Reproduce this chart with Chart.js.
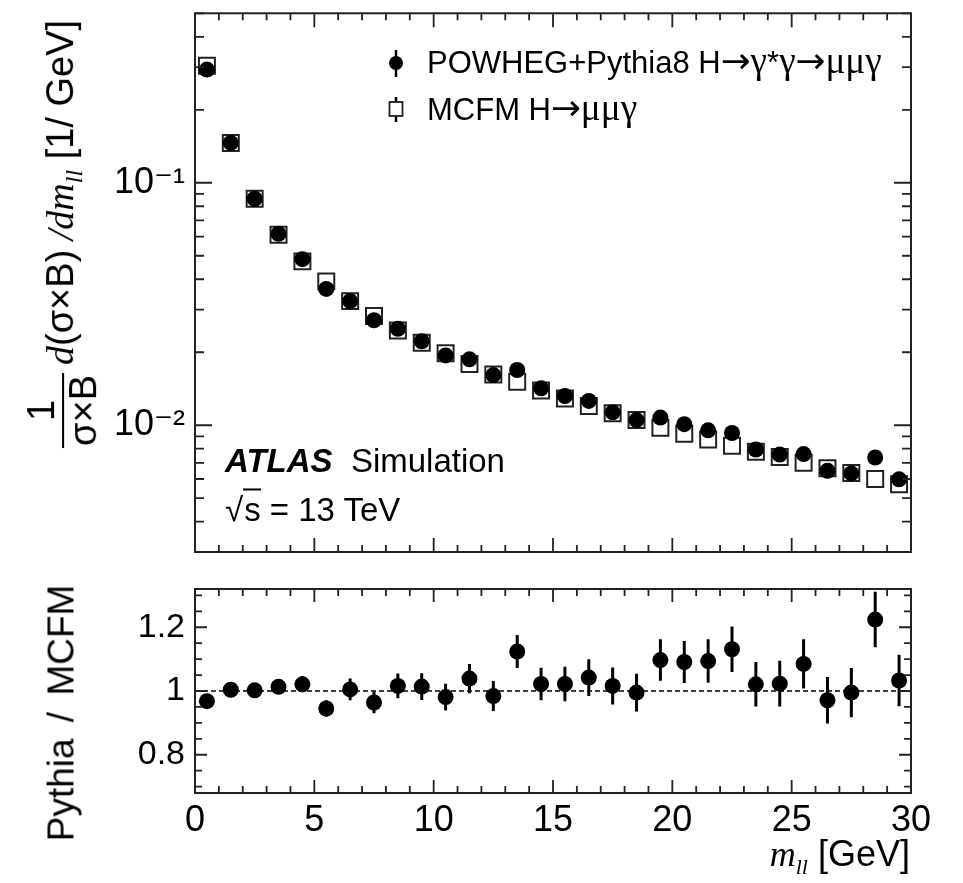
<!DOCTYPE html>
<html>
<head>
<meta charset="utf-8">
<script src="https://cdn.jsdelivr.net/npm/chart.js@4.4.1/dist/chart.umd.min.js"></script>
<style>
  body { margin: 0; background: #fff; }
  #wrap { position: relative; width: 963px; height: 883px; overflow: hidden; background: #fff; }
  .pane { position: absolute; left: 0; }
  .lbl { position: absolute; font-family: "Liberation Sans", Arial, sans-serif; color: #000; white-space: nowrap; line-height: 1; }
  .sf { font-family: "Liberation Serif", "DejaVu Serif", serif; }
  .gk { font-family: "Liberation Serif", "DejaVu Serif", serif; font-size: 1.2em; line-height: 0.8; }
  .ar { font-family: "DejaVu Sans", sans-serif; font-size: 1.15em; line-height: 0.8; }
  .it { font-style: italic; }
  .frac { display: inline-block; vertical-align: middle; text-align: center; margin-right: 8px; }
  .frac span { display: block; line-height: 1.05; }
  .frac .den { border-top: 2px solid #000; padding: 0 2px; }
  .rot { transform: translate(-50%, -50%) rotate(-90deg); }
  .mid { transform: translateY(-50%); }
  .sqrt { border-top: 2px solid #000; padding-left: 1px; }
</style>
</head>
<body>
<div id="wrap">
  <div class="pane" style="top:0"><canvas id="mainChart" width="963" height="570"></canvas></div>
  <div class="pane" style="top:570px"><canvas id="ratioChart" width="963" height="313"></canvas></div>

  <!-- axis titles -->
  <div class="lbl rot" style="left:63px; top:234px; font-size:38px;"><span class="frac"><span>1</span><span class="den">σ×B</span></span><span class="sf it">d</span>(σ×B)<span class="sf it"> /dm</span><sub class="sf it" style="font-size:24px">ll</sub> [1/ GeV]</div>
  <div class="lbl rot" style="left:61px; top:713px; font-size:37px; word-spacing:6px;">Pythia / MCFM</div>
  <div class="lbl mid" style="right:53px; top:857px; font-size:36px;"><span class="sf it">m</span><sub class="sf it" style="font-size:22px">ll</sub> [GeV]</div>

  <!-- legend -->
  <div class="lbl mid" style="left:427px; top:62px; font-size:31px;">POWHEG+Pythia8 H<span class="ar">→</span><span class="gk">γ</span>*<span class="gk">γ</span><span class="ar">→</span><span class="gk">μμγ</span></div>
  <div class="lbl mid" style="left:427px; top:109px; font-size:31px;">MCFM H<span class="ar">→</span><span class="gk">μμγ</span></div>

  <!-- ATLAS label -->
  <div class="lbl mid" style="left:225px; top:460px; font-size:33px;"><b><i>ATLAS</i></b>&nbsp; Simulation</div>
  <div class="lbl mid" style="left:225px; top:509px; font-size:33px;">√<span class="sqrt">s</span> = 13 TeV</div>
</div>

<script>
  'use strict';

  // bin centres of m_ll [GeV]
  var mll = [0.5, 1.5, 2.5, 3.5, 4.5, 5.5, 6.5, 7.5, 8.5, 9.5,
             10.5, 11.5, 12.5, 13.5, 14.5, 15.5, 16.5, 17.5, 18.5, 19.5,
             20.5, 21.5, 22.5, 23.5, 24.5, 25.5, 26.5, 27.5, 28.5, 29.5];

  // 1/(sigma x B) d(sigma x B)/dm_ll [1/GeV]
  var powheg = [0.293, 0.146, 0.0859, 0.0616, 0.0484, 0.0365, 0.0325, 0.0271, 0.0250, 0.0222,
                0.0194, 0.0187, 0.0161, 0.0169, 0.0142, 0.0132, 0.0126, 0.0113, 0.0105, 0.01075,
                0.0101, 0.00953, 0.00929, 0.00794, 0.00757, 0.0076, 0.00649, 0.00633, 0.00736, 0.00598];

  var mcfm = [0.304, 0.146, 0.0859, 0.0610, 0.0474, 0.0392, 0.0325, 0.0282, 0.0246, 0.0219,
              0.0198, 0.0179, 0.0162, 0.0151, 0.0139, 0.0129, 0.0120, 0.0112, 0.0105, 0.00977,
              0.00923, 0.00873, 0.00822, 0.00777, 0.0074, 0.0070, 0.00664, 0.00635, 0.0060, 0.00571];

  // Pythia / MCFM
  var ratio = [0.968, 1.004, 1.002, 1.013, 1.021, 0.945, 1.005, 0.964, 1.016, 1.014,
               0.981, 1.039, 0.984, 1.124, 1.022, 1.022, 1.042, 1.016, 0.995, 1.097,
               1.091, 1.094, 1.131, 1.021, 1.023, 1.085, 0.971, 0.995, 1.224, 1.033];

  var ratioErr = [0.010, 0.012, 0.015, 0.018, 0.025, 0.026, 0.034, 0.034, 0.039, 0.042,
                  0.042, 0.046, 0.047, 0.052, 0.051, 0.054, 0.058, 0.058, 0.059, 0.065,
                  0.066, 0.068, 0.071, 0.070, 0.072, 0.077, 0.073, 0.077, 0.087, 0.081];

  // axis ticks
  var xMajorTicks = [0, 5, 10, 15, 20, 25, 30];
  var logLabelTicks = [0.01, 0.1];
  var ratioLabelTicks = [0.8, 1, 1.2];

  var FONT = '"Liberation Sans", "DejaVu Sans", Arial, sans-serif';

  function pts(xs, ys) {
    return xs.map(function(x, i) { return { x: x, y: ys[i] }; });
  }

  // no extra room for half-labels at the ends of an axis
  function noEndPadding(scale) {
    scale.paddingTop = 0;
    scale.paddingBottom = 0;
    scale.paddingLeft = 0;
    scale.paddingRight = 0;
  }

  // minor ticks lists
  var xTickList = [];
  for (var a = 0; a <= 30; a++) {
    xTickList.push({ v: a, major: a % 5 === 0 });
  }

  var logTickList = [];
  [0.001, 0.01, 0.1].forEach(function(dec) {
    for (var m = 1; m <= 9; m++) {
      var v = m * dec;
      if (v >= 0.003 - 1e-9 && v <= 0.5 + 1e-9) {
        logTickList.push({ v: v, major: m === 1 });
      }
    }
  });

  var ratioTickList = [];
  for (var r = 14; r <= 26; r++) {
    ratioTickList.push({ v: r * 0.05, major: r % 4 === 0 });
  }

  //  frame with inward ticks on all four sides
  var frameTicks = {
    id: 'frameTicks',
    afterDraw: function(chart, args, opts) {
      var ctx = chart.ctx,
          area = chart.chartArea,
          xs = chart.scales.x,
          ys = chart.scales.y;

      ctx.save();
      ctx.strokeStyle = '#222';
      ctx.lineWidth = 1.8;
      ctx.beginPath();

      opts.xTicks.forEach(function(t) {
        var px = xs.getPixelForValue(t.v),
            len = t.major ? opts.xMajor : opts.xMinor;
        ctx.moveTo(px, area.bottom);
        ctx.lineTo(px, area.bottom - len);
        ctx.moveTo(px, area.top);
        ctx.lineTo(px, area.top + len);
      });

      opts.yTicks.forEach(function(t) {
        var py = ys.getPixelForValue(t.v),
            len = t.major ? opts.yMajor : opts.yMinor;
        ctx.moveTo(area.left, py);
        ctx.lineTo(area.left + len, py);
        ctx.moveTo(area.right, py);
        ctx.lineTo(area.right - len, py);
      });
      ctx.stroke();

      ctx.lineWidth = 2;
      ctx.strokeRect(area.left, area.top, area.right - area.left, area.bottom - area.top);
      ctx.restore();
    }
  };

  //  error bars + reference line
  var errorBars = {
    id: 'errorBars',
    beforeDatasetsDraw: function(chart, args, opts) {
      var ctx = chart.ctx,
          area = chart.chartArea,
          xs = chart.scales.x,
          ys = chart.scales.y;

      ctx.save();
      if (opts.refLine !== undefined) {
        var yr = ys.getPixelForValue(opts.refLine);
        ctx.strokeStyle = '#000';
        ctx.lineWidth = 1.3;
        ctx.setLineDash([5, 3]);
        ctx.beginPath();
        ctx.moveTo(area.left, yr);
        ctx.lineTo(area.right, yr);
        ctx.stroke();
        ctx.setLineDash([]);
      }

      chart.data.datasets.forEach(function(ds) {
        if (!ds.errors) return;
        ctx.strokeStyle = '#000';
        ctx.lineWidth = 3;
        ctx.beginPath();
        ds.data.forEach(function(p, i) {
          var px = xs.getPixelForValue(p.x);
          ctx.moveTo(px, ys.getPixelForValue(p.y - ds.errors[i]));
          ctx.lineTo(px, ys.getPixelForValue(p.y + ds.errors[i]));
        });
        ctx.stroke();
      });
      ctx.restore();
    }
  };

  //  legend markers (text is html)
  var legendMarks = {
    id: 'legendMarks',
    afterDraw: function(chart) {
      var ctx = chart.ctx;
      ctx.save();
      ctx.strokeStyle = '#000';
      ctx.lineWidth = 2.5;
      // POWHEG
      ctx.beginPath();
      ctx.moveTo(396, 50); ctx.lineTo(396, 77);
      ctx.stroke();
      ctx.fillStyle = '#000';
      ctx.beginPath();
      ctx.arc(396, 63, 7, 0, Math.PI * 2);
      ctx.fill();
      // MCFM
      ctx.beginPath();
      ctx.moveTo(396, 97); ctx.lineTo(396, 102);
      ctx.moveTo(396, 116); ctx.lineTo(396, 122);
      ctx.stroke();
      ctx.lineWidth = 1.8;
      ctx.strokeStyle = '#222';
      ctx.strokeRect(389.5, 102, 13, 14);
      ctx.restore();
    }
  };

  var mainChart = new Chart(document.getElementById('mainChart').getContext('2d'), {
    type: 'scatter',
    data: {
      datasets: [{
        label: 'POWHEG+Pythia8 H→γ*γ→μμγ',
        data: pts(mll, powheg),
        pointStyle: 'circle',
        pointRadius: 8,
        pointBackgroundColor: '#000',
        pointBorderWidth: 0
      }, {
        label: 'MCFM H→μμγ',
        data: pts(mll, mcfm),
        pointStyle: 'rect',
        pointRadius: 11.3,
        pointBackgroundColor: 'rgba(255,255,255,0)',
        pointBorderColor: '#222',
        pointBorderWidth: 2
      }]
    },
    options: {
      responsive: false,
      animation: false,
      events: [],
      layout: { padding: { top: 13, right: 52, bottom: 18, left: 0 } },
      plugins: {
        legend: { display: false },
        tooltip: { enabled: false },
        frameTicks: { xTicks: xTickList, yTicks: logTickList, xMajor: 14, xMinor: 7, yMajor: 17, yMinor: 9 }
      },
      scales: {
        x: {
          type: 'linear', min: 0, max: 30,
          display: false
        },
        y: {
          type: 'logarithmic', min: 0.003, max: 0.5,
          grid: { display: false, drawTicks: false },
          border: { display: false },
          afterBuildTicks: function(scale) {
            scale.ticks = logLabelTicks.map(function(v) { return { value: v }; });
          },
          afterFit: function(scale) { scale.width = 195; noEndPadding(scale); },
          ticks: {
            padding: 10,
            color: '#000',
            font: { family: FONT, size: 36 },
            callback: function(v) {
              return Math.round(Math.log10(v)) === -1 ? '10⁻¹' : '10⁻²';
            }
          }
        }
      }
    },
    plugins: [frameTicks, legendMarks]
  });

  var ratioChart = new Chart(document.getElementById('ratioChart').getContext('2d'), {
    type: 'scatter',
    data: {
      datasets: [{
        label: 'Pythia / MCFM',
        data: pts(mll, ratio),
        errors: ratioErr,
        pointStyle: 'circle',
        pointRadius: 8,
        pointBackgroundColor: '#000',
        pointBorderWidth: 0
      }]
    },
    options: {
      responsive: false,
      animation: false,
      events: [],
      layout: { padding: { top: 19, right: 52, bottom: 0, left: 0 } },
      plugins: {
        legend: { display: false },
        tooltip: { enabled: false },
        frameTicks: { xTicks: xTickList, yTicks: ratioTickList, xMajor: 13, xMinor: 7, yMajor: 12, yMinor: 7 },
        errorBars: { refLine: 1 }
      },
      scales: {
        x: {
          type: 'linear', min: 0, max: 30,
          grid: { display: false, drawTicks: false },
          border: { display: false },
          afterBuildTicks: function(scale) {
            scale.ticks = xMajorTicks.map(function(v) { return { value: v }; });
          },
          afterFit: function(scale) { scale.height = 90; noEndPadding(scale); },
          ticks: {
            padding: 6,
            color: '#000',
            maxRotation: 0,
            font: { family: FONT, size: 36 }
          }
        },
        y: {
          type: 'linear', min: 0.68, max: 1.32,
          grid: { display: false, drawTicks: false },
          border: { display: false },
          afterBuildTicks: function(scale) {
            scale.ticks = ratioLabelTicks.map(function(v) { return { value: v }; });
          },
          afterFit: function(scale) { scale.width = 195; noEndPadding(scale); },
          ticks: {
            padding: 10,
            color: '#000',
            font: { family: FONT, size: 34 },
            callback: function(v) { return String(Math.round(v * 10) / 10); }
          }
        }
      }
    },
    plugins: [frameTicks, errorBars]
  });
</script>
</body>
</html>
